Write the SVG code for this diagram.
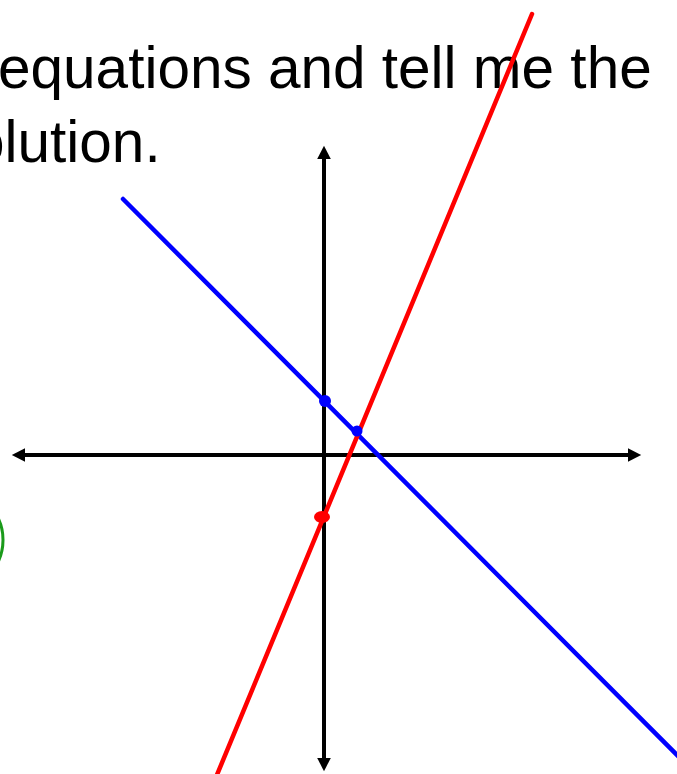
<svg xmlns="http://www.w3.org/2000/svg" width="677" height="774" viewBox="0 0 677 774">
<style>
.t{font-family:"Liberation Sans",Arial,sans-serif;font-size:58.5px;fill:#000}
.ax{stroke:#000;stroke-width:4;fill:none}
</style>
<defs>
<marker id="ah" markerWidth="4" markerHeight="4" refX="0.5" refY="2" orient="auto" markerUnits="strokeWidth">
<path d="M0,0.3 L3.3,2 L0,3.7 Z" fill="#000"/>
</marker>
</defs>
<rect width="677" height="774" fill="#fff"/>
<g id="title">
<text class="t" x="-2" y="88">equations and tell me the</text>
<text class="t" x="-28" y="162">olution.</text>
</g>
<g id="green-circle">
<circle cx="-47" cy="540" r="50" fill="none" stroke="#1a9a1a" stroke-width="3"/>
</g>
<g id="connectors">
<line class="ax" x1="324" y1="450" x2="324" y2="157" marker-end="url(#ah)"/>
<line class="ax" x1="324" y1="450" x2="324" y2="760" marker-end="url(#ah)"/>
<line class="ax" x1="324" y1="455" x2="23" y2="455" marker-end="url(#ah)"/>
<line class="ax" x1="324" y1="455" x2="630" y2="455" marker-end="url(#ah)"/>
</g>
<g id="blue-line">
<line x1="123" y1="199" x2="690" y2="768" stroke="#0000ff" stroke-width="4.5" stroke-linecap="round"/>
</g>
<g id="red-line">
<line x1="532" y1="14" x2="214" y2="782" stroke="#ff0000" stroke-width="4.5" stroke-linecap="round"/>
</g>
<g id="points">
<circle cx="325" cy="401" r="6" fill="#0000ff"/>
<circle cx="357" cy="431" r="5.5" fill="#0000ff"/>
<ellipse cx="322" cy="517" rx="8" ry="6" fill="#ff0000"/>
</g>
</svg>
